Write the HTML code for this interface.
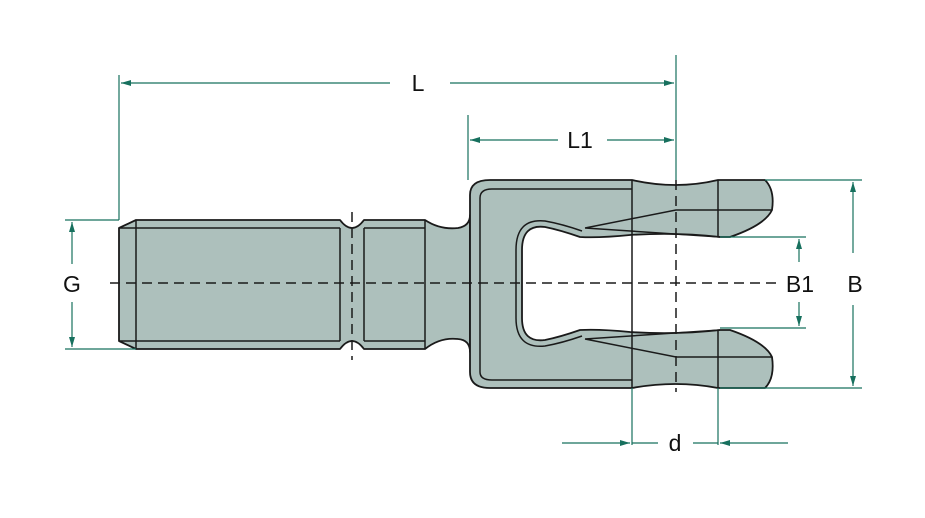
<!DOCTYPE html>
<html><head><meta charset="utf-8"><style>
html,body{margin:0;padding:0;background:#fff}
svg{display:block}
text{font-family:"Liberation Sans",sans-serif;font-size:23px;fill:#111}
</style></head><body>
<svg width="925" height="518" viewBox="0 0 925 518" xmlns="http://www.w3.org/2000/svg">
<defs>
<marker id="a" viewBox="0 0 10 6" refX="10" refY="3" markerWidth="10" markerHeight="6" orient="auto-start-reverse" markerUnits="userSpaceOnUse"><path d="M0,0L10,3L0,6z" fill="#17705e"/></marker>
</defs>
<g stroke="#1a1a1a" stroke-width="1.8" fill="#adc0bc" stroke-linejoin="round">
<path d="M136,220 L340,220 Q352,236 364,220 L425,220 Q440,230 458,228 Q470,226 470,215 L470,352 Q470,340 458,339 Q440,337 425,349 L364,349 Q352,333 340,349 L136,349 L119,341 L119,228 Z"/>
<path d="M470,195 Q470,180 490,180 L632,180 Q676,190 718,180 L765,180 Q775,190 772,210 Q765,225 730,237 L720,237 Q676,232 630,235 Q600,238 580,237 Q560,230 545,227 Q522,224 522,250 L522,318 Q522,343 545,340 Q560,337 580,330 Q600,329 630,332 Q676,335 720,330 L730,330 Q765,342 772,357 Q775,378 765,388 L718,388 Q676,380 632,388 L490,388 Q470,388 470,372 Z"/>
</g>
<g stroke="#1a1a1a" stroke-width="1.5" fill="none">
<path d="M136,220 L136,349 M119,228 L340,228 M119,341 L340,341 M340,228 L340,341 M364,228 L364,341 M364,228 L425,228 M364,341 L425,341 M425,220 L425,349"/>
<path d="M632,180 L632,388 M718,180 L718,237 M718,330 L718,388"/>
<path d="M480,372 L480,198 Q480,189 492,189 L632,189 M480,372 Q480,380 492,380 L632,380"/>
<path d="M582,231 Q562,224 545,221 Q516,218 516,250 L516,318 Q516,349 545,346 Q562,343 582,336"/>
<path d="M585,228 L676,210 L772,210 M585,228 L720,237 M585,339 L676,357 L772,357 M585,339 L720,330"/>
</g>
<g stroke="#1a1a1a" stroke-width="1.5" stroke-dasharray="10,6" fill="none">
<path d="M110,283 L780,283"/>
<path d="M676,180 L676,392"/>
<path d="M352,212 L352,360"/>
</g>
<g stroke="#17705e" stroke-width="1.2" fill="none">
<path d="M119,75 L119,220 M468,115 L468,180 M676,55 L676,180"/>
<path d="M632,388 L632,445 M718,388 L718,445"/>
<path d="M65,220 L119,220 M65,349 L136,349"/>
<path d="M765,180 L862,180 M720,388 L862,388 M720,237 L806,237 M720,328 L806,328"/>
<path d="M390,83 L121,83" marker-end="url(#a)"/>
<path d="M450,83 L674,83" marker-end="url(#a)"/>
<path d="M558,140 L470,140" marker-end="url(#a)"/>
<path d="M607,140 L674,140" marker-end="url(#a)"/>
<path d="M72,264 L72,222" marker-end="url(#a)"/>
<path d="M72,302 L72,347" marker-end="url(#a)"/>
<path d="M853,253 L853,182" marker-end="url(#a)"/>
<path d="M853,305 L853,386" marker-end="url(#a)"/>
<path d="M799,262 L799,239" marker-end="url(#a)"/>
<path d="M799,302 L799,326" marker-end="url(#a)"/>
<path d="M562,443 L630,443" marker-end="url(#a)"/>
<path d="M632,443 L658,443 M693,443 L718,443"/>
<path d="M788,443 L720,443" marker-end="url(#a)"/>
</g>
<text x="418" y="91" text-anchor="middle">L</text>
<text x="580" y="148" text-anchor="middle">L1</text>
<text x="72" y="292" text-anchor="middle">G</text>
<text x="855" y="292" text-anchor="middle">B</text>
<text x="800" y="292" text-anchor="middle">B1</text>
<text x="675" y="451" text-anchor="middle">d</text>
</svg>
</body></html>
